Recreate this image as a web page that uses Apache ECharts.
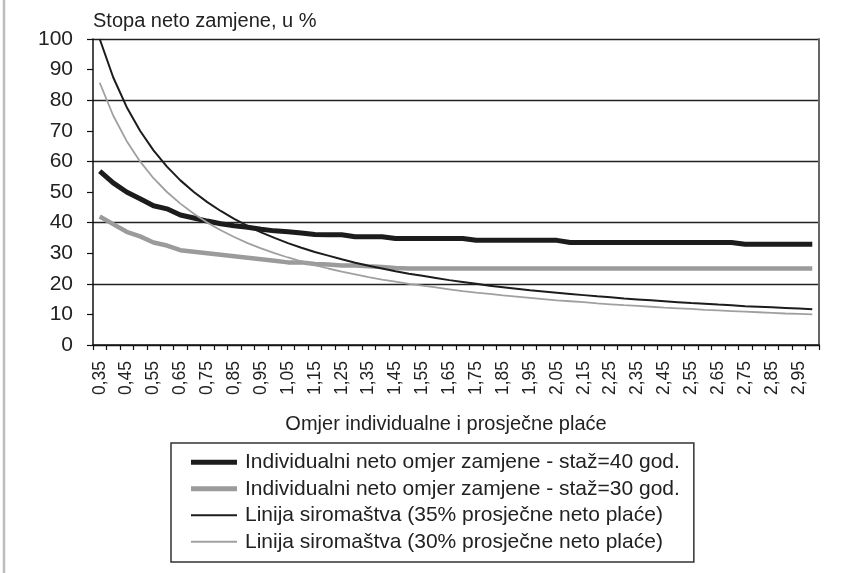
<!DOCTYPE html>
<html>
<head>
<meta charset="utf-8">
<script src="https://cdn.jsdelivr.net/npm/echarts@6/dist/echarts.min.js"></script>
<style>
  html, body { margin: 0; padding: 0; background: #fff; }
  #main { width: 849px; height: 573px; }
</style>
</head>
<body>
<div id="main"></div>
<script>
(function () {
    // omjer individualne i prosječne plaće (0,35 ... 3,00)
    const categories = [
        '0,35', '0,40', '0,45', '0,50', '0,55', '0,60', '0,65', '0,70', '0,75', '0,80',
        '0,85', '0,90', '0,95', '1,00', '1,05', '1,10', '1,15', '1,20', '1,25', '1,30',
        '1,35', '1,40', '1,45', '1,50', '1,55', '1,60', '1,65', '1,70', '1,75', '1,80',
        '1,85', '1,90', '1,95', '2,00', '2,05', '2,10', '2,15', '2,20', '2,25', '2,30',
        '2,35', '2,40', '2,45', '2,50', '2,55', '2,60', '2,65', '2,70', '2,75', '2,80',
        '2,85', '2,90', '2,95', '3,00'
    ];

    // staž = 40 god.
    const staz40 = [
        56.8, 53, 50, 47.8, 45.5, 44.5, 42.5, 41.5, 40.5, 39.6,
        39, 38.5, 37.8, 37.3, 37, 36.6, 36.1, 36, 36, 35.4,
        35.4, 35.4, 34.8, 34.8, 34.8, 34.8, 34.8, 34.8, 34.2, 34.2,
        34.2, 34.2, 34.2, 34.2, 34.2, 33.5, 33.5, 33.5, 33.5, 33.5,
        33.5, 33.5, 33.5, 33.5, 33.5, 33.5, 33.5, 33.5, 32.9, 32.9,
        32.9, 32.9, 32.9, 32.9
    ];

    // staž = 30 god.
    const staz30 = [
        42, 39.5, 37, 35.5, 33.5, 32.5, 31, 30.5, 30, 29.5,
        29, 28.5, 28, 27.5, 27, 27, 26.5, 26.3, 26, 26,
        25.7, 25.5, 25.2, 25, 25, 25, 25, 25, 25, 25,
        25, 25, 25, 25, 25, 25, 25, 25, 25, 25,
        25, 25, 25, 25, 25, 25, 25, 25, 25, 25,
        25, 25, 25, 25
    ];

    // linija siromaštva, 35% prosječne neto plaće
    const siromastvo35 = [
        100, 87.5, 77.8, 70, 63.6, 58.3, 53.8, 50, 46.7, 43.8,
        41.2, 38.9, 36.8, 35, 33.3, 31.8, 30.4, 29.2, 28, 26.9,
        25.9, 25, 24.1, 23.3, 22.6, 21.9, 21.2, 20.6, 20, 19.4,
        18.9, 18.4, 17.9, 17.5, 17.1, 16.7, 16.3, 15.9, 15.6, 15.2,
        14.9, 14.6, 14.3, 14, 13.7, 13.5, 13.2, 13, 12.7, 12.5,
        12.3, 12.1, 11.9, 11.7
    ];

    // linija siromaštva, 30% prosječne neto plaće
    const siromastvo30 = [
        85.7, 75, 66.7, 60, 54.5, 50, 46.2, 42.9, 40, 37.5,
        35.3, 33.3, 31.6, 30, 28.6, 27.3, 26.1, 25, 24, 23.1,
        22.2, 21.4, 20.7, 20, 19.4, 18.8, 18.2, 17.6, 17.1, 16.7,
        16.2, 15.8, 15.4, 15, 14.6, 14.3, 14, 13.6, 13.3, 13,
        12.8, 12.5, 12.2, 12, 11.8, 11.5, 11.3, 11.1, 10.9, 10.7,
        10.5, 10.3, 10.2, 10
    ];

    const seriesNames = [
        'Individualni neto omjer zamjene - staž=40 god.',
        'Individualni neto omjer zamjene - staž=30 god.',
        'Linija siromaštva (35% prosječne neto plaće)',
        'Linija siromaštva (30% prosječne neto plaće)'
    ];

    const font = '"Liberation Sans", Arial, sans-serif';
    const textColor = '#222';

    // legend samples: thick bars for the two replacement-rate series, thin for the poverty lines
    const thickIcon = 'path://M0,0H46V5H0Z';
    const thinIcon = 'path://M0,0H46V2H0Z';

    var myChart = echarts.init(document.getElementById('main'));
    var option = {
        animation: false,
        backgroundColor: '#fff',
        textStyle: { fontFamily: font, color: textColor },
        title: {
            text: 'Stopa neto zamjene, u %',
            left: 88,
            top: 6,
            textStyle: { fontFamily: font, fontSize: 20, fontWeight: 'normal', color: textColor }
        },
        graphic: [
            {
                type: 'line',
                shape: { x1: 4, y1: 0, x2: 4, y2: 573 },
                style: { stroke: '#bcbcbc', lineWidth: 2.5 }
            }
        ],
        legend: {
            orient: 'vertical',
            left: 171,
            top: 443,
            padding: [8, 14, 9, 20],
            itemWidth: 46,
            itemHeight: 14,
            itemGap: 4,
            symbolKeepAspect: true,
            borderColor: '#333',
            borderWidth: 1.5,
            selectedMode: false,
            textStyle: { fontFamily: font, fontSize: 21, color: textColor, lineHeight: 22.5, padding: [0, 0, 0, 3] },
            data: [
                { name: seriesNames[0], icon: thickIcon },
                { name: seriesNames[1], icon: thickIcon },
                { name: seriesNames[2], icon: thinIcon },
                { name: seriesNames[3], icon: thinIcon }
            ]
        },
        grid: { left: 93, right: 30, top: 39, bottom: 228 },
        xAxis: {
            type: 'category',
            data: categories,
            boundaryGap: true,
            name: 'Omjer individualne i prosječne plaće',
            nameLocation: 'middle',
            nameGap: 69,
            nameTextStyle: { fontFamily: font, fontSize: 20, color: textColor, padding: [0, 20, 0, 0] },
            axisLine: { show: true, lineStyle: { color: '#111', width: 1.5 } },
            axisTick: { show: true, interval: 0, length: 5, lineStyle: { color: '#111', width: 1.2 } },
            axisLabel: {
                interval: 1,
                rotate: 90,
                margin: 16,
                fontFamily: font,
                fontSize: 17.5,
                color: textColor
            },
            splitLine: { show: false }
        },
        yAxis: [
            {
                type: 'value',
                min: 0,
                max: 100,
                interval: 10,
                axisLine: { show: true, lineStyle: { color: '#111', width: 1.5 } },
                axisTick: { show: true, length: 6, lineStyle: { color: '#111', width: 1.2 } },
                axisLabel: { margin: 20, fontFamily: font, fontSize: 21, color: textColor },
                splitLine: { show: false }
            },
            {
                // gridlines every 20 and the right plot border
                type: 'value',
                min: 0,
                max: 100,
                interval: 20,
                position: 'right',
                axisLine: { show: true, lineStyle: { color: '#666', width: 2 } },
                axisTick: { show: false },
                axisLabel: { show: false },
                splitLine: { show: true, lineStyle: { color: '#222', width: 1.3 } }
            }
        ],
        series: [
            {
                name: seriesNames[0],
                type: 'line',
                data: staz40,
                symbol: 'none',
                lineStyle: { color: '#1c1c1c', width: 5 },
                itemStyle: { color: '#1c1c1c' }
            },
            {
                name: seriesNames[1],
                type: 'line',
                data: staz30,
                symbol: 'none',
                lineStyle: { color: '#9b9b9b', width: 4.5 },
                itemStyle: { color: '#9b9b9b' }
            },
            {
                name: seriesNames[2],
                type: 'line',
                data: siromastvo35,
                symbol: 'none',
                lineStyle: { color: '#1c1c1c', width: 2 },
                itemStyle: { color: '#1c1c1c' }
            },
            {
                name: seriesNames[3],
                type: 'line',
                data: siromastvo30,
                symbol: 'none',
                lineStyle: { color: '#a0a0a0', width: 1.8 },
                itemStyle: { color: '#a0a0a0' }
            }
        ]
    };
    myChart.setOption(option);
}());
</script>
</body>
</html>
